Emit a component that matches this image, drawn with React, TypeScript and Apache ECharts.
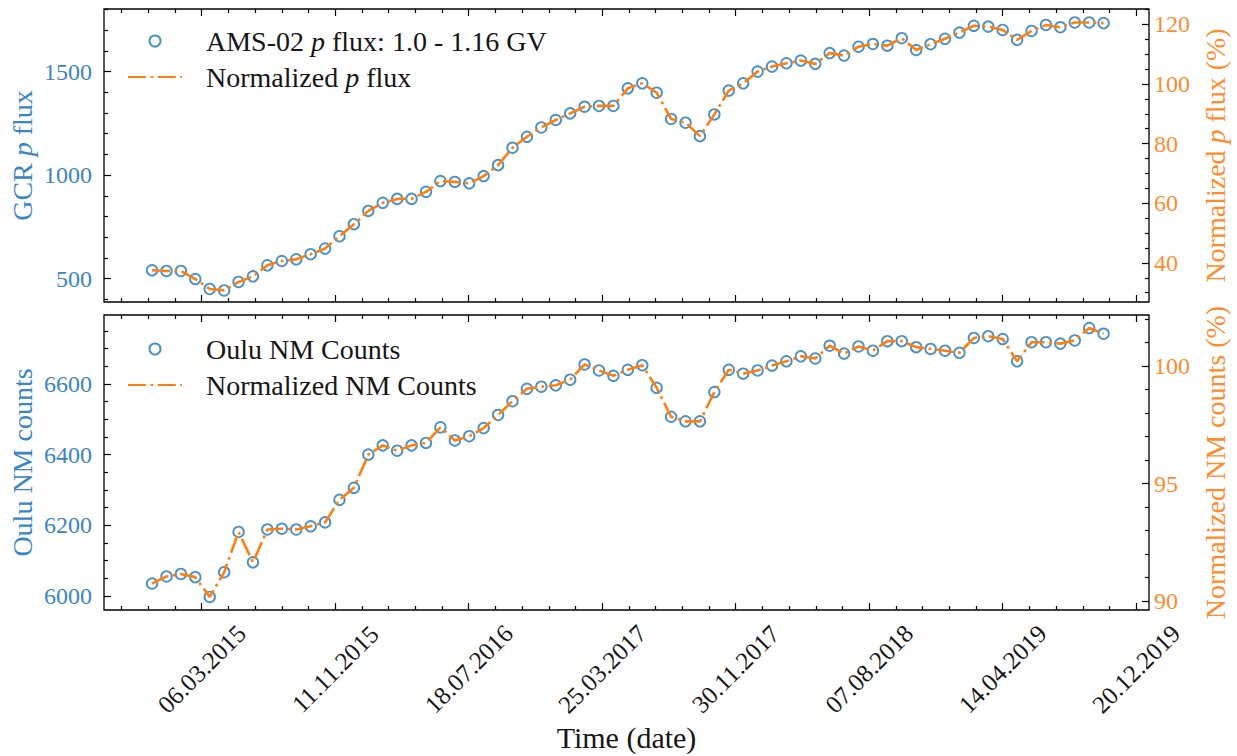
import React, { useEffect, useRef } from "react";
import * as echarts from "echarts";

// ---------------- data ----------------
const firstRotationDate = "03.12.2014"; // first Bartels rotation plotted
const rotationLengthDays = 27; // Bartels rotation period

const amsProtonFlux = [
  540, 537, 537, 498, 450, 443, 484, 511, 564, 585,
  593, 618, 645, 705, 763, 827, 866, 885, 885, 919,
  971, 967, 960, 995, 1048, 1132, 1185, 1230, 1266, 1298,
  1330, 1334, 1334, 1419, 1443, 1398, 1271, 1253, 1188, 1293,
  1408, 1443, 1500, 1524, 1540, 1553, 1537, 1589, 1577, 1620,
  1633, 1625, 1661, 1604, 1632, 1658, 1688, 1721, 1717, 1701,
  1653, 1696, 1725, 1714, 1737, 1737, 1734,
];

const ouluCounts = [
  6035, 6055, 6062, 6053, 5997, 6067, 6181, 6095, 6188, 6190,
  6188, 6197, 6208, 6272, 6306, 6400, 6426, 6411, 6426, 6433,
  6477, 6440, 6452, 6475, 6512, 6551, 6586, 6592, 6596, 6612,
  6655, 6638, 6623, 6640, 6653, 6589, 6507, 6494, 6494, 6577,
  6640, 6629, 6638, 6652, 6664, 6678, 6672, 6708, 6686, 6706,
  6694, 6721, 6721, 6704, 6699, 6694, 6688, 6730, 6735, 6727,
  6664, 6718, 6718, 6714, 6723, 6758, 6742,
];

const fluxReference = 1440; // flux at 100 %
const countsReference = 6650; // counts at 100 %

const xTickLabels = [
  "06.03.2015", "11.11.2015", "18.07.2016", "25.03.2017",
  "30.11.2017", "07.08.2018", "14.04.2019", "20.12.2019",
];
const xRange = ["04.09.2014", "13.01.2020"];
const xMinorPerMajor = 5;

const fluxRange = [387, 1802];
const fluxTicks = [500, 1000, 1500];
const fluxMinorTicks = [400, 600, 700, 800, 900, 1100, 1200, 1300, 1400, 1600, 1700, 1800];
const fluxPctTicks = [40, 60, 80, 100, 120];
const fluxPctMinorTicks = [30, 35, 45, 50, 55, 65, 70, 75, 85, 90, 95, 105, 110, 115, 125];

const countsRange = [5960, 6795];
const countsTicks = [6000, 6200, 6400, 6600];
const countsMinorTicks = [6050, 6100, 6150, 6250, 6300, 6350, 6450, 6500, 6550, 6650, 6700, 6750];
const countsPctTicks = [90, 95, 100];
const countsPctMinorTicks = [91, 92, 93, 94, 96, 97, 98, 99, 101, 102];

// ---------------- helpers ----------------
const DAY_MS = 86400000;
const toDay = (s: string) => {
  const [d, m, y] = s.split(".").map(Number);
  return Date.UTC(y, m - 1, d) / DAY_MS;
};
const pad2 = (n: number) => (n < 10 ? "0" + n : "" + n);
const fmtDay = (v: number) => {
  const dt = new Date(Math.round(v) * DAY_MS);
  return pad2(dt.getUTCDate()) + "." + pad2(dt.getUTCMonth() + 1) + "." + dt.getUTCFullYear();
};

const X_MIN = toDay(xRange[0]);
const X_MAX = toDay(xRange[1]);
const xMajor = xTickLabels.map(toDay);
const xMinor: number[] = (() => {
  const out: number[] = [];
  const step = (xMajor[1] - xMajor[0]) / xMinorPerMajor;
  for (let v = xMajor[0] - step; v >= X_MIN; v -= step) out.push(v);
  for (let i = 0; i < xMajor.length - 1; i++) {
    const st = (xMajor[i + 1] - xMajor[i]) / xMinorPerMajor;
    for (let k = 1; k < xMinorPerMajor; k++) out.push(xMajor[i] + k * st);
  }
  return out;
})();

const startDay = toDay(firstRotationDate);
const dates = amsProtonFlux.map((_, i) => startDay + i * rotationLengthDays);

const FONT = "'Liberation Serif', 'DejaVu Serif', serif";
const BLUE = "#1f77b4";
const BLUE_TEXT = "#3a86c0";
const ORANGE = "#ff7f0e";
const ORANGE_TEXT = "#ff8c2c";
const INK = "#161616";

const tickLine = { color: "#000", width: 1.2 };
const MAJOR_LEN = 7;
const MINOR_LEN = 4;
const NAME_SIZE = 28;
const LEGEND_SIZE = 28;

function xAxisPart(grid: number, position: string, values: number[], len: number, extra: any = {}) {
  return {
    type: "value",
    gridIndex: grid,
    position,
    min: X_MIN,
    max: X_MAX,
    axisLine: { show: false, onZero: false },
    axisTick: { show: true, inside: true, length: len, customValues: values, lineStyle: tickLine },
    axisLabel: { show: false },
    splitLine: { show: false },
    ...extra,
  };
}

function yAxisPart(grid: number, position: string, range: number[], values: number[], len: number, extra: any = {}) {
  return {
    type: "value",
    gridIndex: grid,
    position,
    min: range[0],
    max: range[1],
    axisLine: { show: false, onZero: false },
    axisTick: { show: true, inside: true, length: len, customValues: values, lineStyle: tickLine },
    axisLabel: { show: false },
    splitLine: { show: false },
    ...extra,
  };
}

const richName = (color: string, size: number) => ({
  t: { color, fontSize: size, fontFamily: FONT, lineHeight: 30 },
  i: { color, fontSize: size, fontFamily: FONT, fontStyle: "italic", lineHeight: 30 },
});

const tickLabel = (values: number[], color: string, margin: number) => ({
  show: true,
  customValues: values,
  color,
  fontSize: 24,
  fontFamily: FONT,
  margin,
  formatter: (v: number) => String(v),
});

const legendText: Record<string, string> = {
  "AMS-02 p flux: 1.0 - 1.16 GV": "{g| }{t|AMS-02 }{i|p}{t| flux: 1.0 - 1.16 GV}",
  "Normalized p flux": "{g| }{t|Normalized }{i|p}{t| flux}",
  "Oulu NM Counts": "{g| }{t|Oulu NM Counts}",
  "Normalized NM Counts": "{g| }{t|Normalized NM Counts}",
};
const legendRich = {
  g: { width: 19, fontSize: LEGEND_SIZE, lineHeight: 30 },
  t: { color: INK, fontSize: LEGEND_SIZE, fontFamily: FONT, lineHeight: 30 },
  i: { color: INK, fontSize: LEGEND_SIZE, fontFamily: FONT, fontStyle: "italic", lineHeight: 30 },
};

function buildOption(): any {
  const fluxPctRange = fluxRange.map((v) => (v / fluxReference) * 100);
  const countsPctRange = countsRange.map((v) => (v / countsReference) * 100);

  const legendBase = {
    orient: "vertical",
    left: 127,
    itemWidth: 54,
    itemHeight: 11,
    itemGap: 8,
    padding: 0,
    selectedMode: false,
    formatter: (name: string) => legendText[name] || name,
    textStyle: { rich: legendRich },
  };

  return {
    animation: false,
    backgroundColor: "#fff",
    grid: [
      { left: 104, right: 88, top: 9, height: 293, show: true, borderColor: "#000", borderWidth: 1.3, backgroundColor: "transparent", outerBoundsMode: "none", containLabel: false },
      { left: 104, right: 88, top: 315, height: 295, show: true, borderColor: "#000", borderWidth: 1.3, backgroundColor: "transparent", outerBoundsMode: "none", containLabel: false },
    ],
    legend: [
      {
        ...legendBase,
        top: 27,
        data: [
          { name: "AMS-02 p flux: 1.0 - 1.16 GV" },
          { name: "Normalized p flux", itemStyle: { opacity: 0 } },
        ],
      },
      {
        ...legendBase,
        top: 335,
        data: [
          { name: "Oulu NM Counts" },
          { name: "Normalized NM Counts", itemStyle: { opacity: 0 } },
        ],
      },
    ],
    xAxis: [
      xAxisPart(0, "bottom", xMajor, MAJOR_LEN),
      xAxisPart(0, "bottom", xMinor, MINOR_LEN),
      xAxisPart(0, "top", xMajor, MAJOR_LEN),
      xAxisPart(0, "top", xMinor, MINOR_LEN),
      xAxisPart(1, "bottom", xMajor, MAJOR_LEN, {
        axisLabel: {
          show: true,
          customValues: xMajor,
          formatter: (v: number) => fmtDay(v),
          rotate: 45,
          align: "center",
          verticalAlign: "middle",
          margin: 59,
          color: INK,
          fontSize: 25,
          fontFamily: FONT,
        },
        name: "Time (date)",
        nameLocation: "middle",
        nameGap: 111,
        nameMoveOverlap: false,
        nameTextStyle: { color: INK, fontSize: 30, fontFamily: FONT, lineHeight: 32 },
      }),
      xAxisPart(1, "bottom", xMinor, MINOR_LEN),
      xAxisPart(1, "top", xMajor, MAJOR_LEN),
      xAxisPart(1, "top", xMinor, MINOR_LEN),
    ],
    yAxis: [
      yAxisPart(0, "left", fluxRange, fluxTicks, MAJOR_LEN, {
        axisLabel: tickLabel(fluxTicks, BLUE_TEXT, 12),
        name: "{t|GCR }{i|p}{t| flux}",
        nameLocation: "middle",
        nameGap: 67,
        nameMoveOverlap: false,
        nameTextStyle: { color: BLUE_TEXT, fontSize: NAME_SIZE, fontFamily: FONT, rich: richName(BLUE_TEXT, NAME_SIZE) },
      }),
      yAxisPart(0, "left", fluxRange, fluxMinorTicks, MINOR_LEN),
      yAxisPart(0, "right", fluxPctRange, fluxPctTicks, MAJOR_LEN, {
        axisLabel: tickLabel(fluxPctTicks, ORANGE_TEXT, 5),
        name: "{t|Normalized }{i|p}{t| flux (%)}",
        nameLocation: "middle",
        nameGap: 51,
        nameMoveOverlap: false,
        nameTextStyle: { color: ORANGE_TEXT, fontSize: NAME_SIZE, fontFamily: FONT, rich: richName(ORANGE_TEXT, NAME_SIZE) },
      }),
      yAxisPart(0, "right", fluxPctRange, fluxPctMinorTicks, MINOR_LEN),
      yAxisPart(1, "left", countsRange, countsTicks, MAJOR_LEN, {
        axisLabel: tickLabel(countsTicks, BLUE_TEXT, 12),
        name: "{t|Oulu NM counts}",
        nameLocation: "middle",
        nameGap: 67,
        nameMoveOverlap: false,
        nameTextStyle: { color: BLUE_TEXT, fontSize: NAME_SIZE, fontFamily: FONT, rich: richName(BLUE_TEXT, NAME_SIZE) },
      }),
      yAxisPart(1, "left", countsRange, countsMinorTicks, MINOR_LEN),
      yAxisPart(1, "right", countsPctRange, countsPctTicks, MAJOR_LEN, {
        axisLabel: tickLabel(countsPctTicks, ORANGE_TEXT, 5),
        name: "{t|Normalized NM counts (%)}",
        nameLocation: "middle",
        nameGap: 51,
        nameMoveOverlap: false,
        nameTextStyle: { color: ORANGE_TEXT, fontSize: NAME_SIZE, fontFamily: FONT, rich: richName(ORANGE_TEXT, NAME_SIZE) },
      }),
      yAxisPart(1, "right", countsPctRange, countsPctMinorTicks, MINOR_LEN),
    ],
    series: [
      {
        name: "AMS-02 p flux: 1.0 - 1.16 GV",
        type: "scatter",
        xAxisIndex: 0,
        yAxisIndex: 0,
        symbol: "circle",
        symbolSize: 10.5,
        itemStyle: { color: "rgba(255,255,255,0)", borderColor: BLUE, borderWidth: 1.9 },
        data: dates.map((d, i) => [d, amsProtonFlux[i]]),
      },
      {
        name: "Normalized p flux",
        type: "line",
        xAxisIndex: 0,
        yAxisIndex: 2,
        symbol: "none",
        showSymbol: false,
        lineStyle: { color: ORANGE, width: 2.6, type: [18, 4.5, 2.8, 4.5] },
        itemStyle: { color: ORANGE },
        data: dates.map((d, i) => [d, (amsProtonFlux[i] / fluxReference) * 100]),
      },
      {
        name: "Oulu NM Counts",
        type: "scatter",
        xAxisIndex: 4,
        yAxisIndex: 4,
        symbol: "circle",
        symbolSize: 10.5,
        itemStyle: { color: "rgba(255,255,255,0)", borderColor: BLUE, borderWidth: 1.9 },
        data: dates.map((d, i) => [d, ouluCounts[i]]),
      },
      {
        name: "Normalized NM Counts",
        type: "line",
        xAxisIndex: 4,
        yAxisIndex: 6,
        symbol: "none",
        showSymbol: false,
        lineStyle: { color: ORANGE, width: 2.6, type: [18, 4.5, 2.8, 4.5] },
        itemStyle: { color: ORANGE },
        data: dates.map((d, i) => [d, (ouluCounts[i] / countsReference) * 100]),
      },
    ],
  };
}

export default function App() {
  const ref = useRef<HTMLDivElement>(null);
  useEffect(() => {
    document.body.style.margin = "0";
    if (!ref.current) return;
    const chart = echarts.init(ref.current, null, { renderer: "svg" });
    chart.setOption(buildOption());
    return () => chart.dispose();
  }, []);
  return <div ref={ref} style={{ width: 1237, height: 756 }} />;
}
